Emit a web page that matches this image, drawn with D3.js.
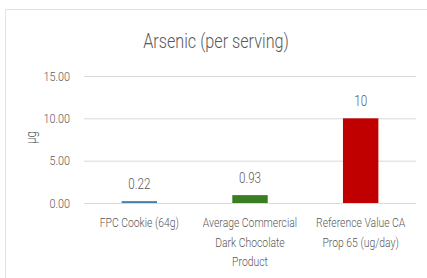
<!DOCTYPE html>
<html>
<head>
<meta charset="utf-8">
<script src="https://cdn.jsdelivr.net/npm/d3@7"></script>
<style>
  body { margin: 0; background: #fff; }
  svg text { font-family: Roboto, "Liberation Sans", sans-serif; font-weight: 300; fill: #595959; }
</style>
</head>
<body>
<svg width="427" height="278"></svg>
<script>
const categories = [
  ["FPC Cookie (64g)"],
  ["Average Commercial", "Dark Chocolate", "Product"],
  ["Reference Value CA", "Prop 65 (ug/day)"],
];
const values = [0.22, 0.93, 10];
const valueLabels = ["0.22", "0.93", "10"];
const barColors = ["#4a7ea8", "#3b7d23", "#c00000"];
const yTicks = [0, 5, 10, 15];

const svg = d3.select("svg");
const width = +svg.attr("width");
const height = +svg.attr("height");
const squeeze = 0.83; // narrow look of the original font

// squeeze text horizontally without transforms
const narrow = (sel) => sel.each(function () {
  const w = this.getComputedTextLength();
  d3.select(this).attr("textLength", w * squeeze).attr("lengthAdjust", "spacingAndGlyphs");
});

// card border
svg.append("rect")
  .attr("x", 5.5).attr("y", 9.5)
  .attr("width", width - 5).attr("height", height - 9)
  .attr("fill", "none").attr("stroke", "#e3e3e3");

const margin = { top: 76, right: 11, bottom: 75, left: 84 };
const innerWidth = width - margin.left - margin.right;
const innerHeight = height - margin.top - margin.bottom;

const g = svg.append("g")
  .attr("transform", `translate(${margin.left},${margin.top})`);

const idx = d3.range(values.length);
const xScale = d3.scaleBand().domain(idx).range([0, innerWidth]).paddingInner(0.68).paddingOuter(0.34);
const yScale = d3.scaleLinear().domain([0, 15]).range([innerHeight, 0]);

const yAxis = d3.axisLeft(yScale).tickValues(yTicks).tickSize(-innerWidth)
  .tickPadding(14).tickFormat(d3.format(".2f"));
const yAxisG = g.append("g").call(yAxis);
yAxisG.select(".domain").remove();
yAxisG.selectAll("line").attr("stroke", "#d9d9d9");
yAxisG.selectAll("text")
  .attr("font-size", 13)
  .attr("fill", "#595959")
  .attr("font-family", "Roboto")
  .call(narrow);

g.selectAll("rect.bar")
  .data(values)
  .enter().append("rect")
  .attr("class", "bar")
  .attr("x", (d, i) => xScale(i))
  .attr("y", (d) => yScale(d))
  .attr("width", xScale.bandwidth())
  .attr("height", (d) => innerHeight - yScale(d))
  .attr("fill", (d, i) => barColors[i]);

g.selectAll("text.value")
  .data(values)
  .enter().append("text")
  .attr("class", "value")
  .attr("x", (d, i) => xScale(i) + xScale.bandwidth() / 2)
  .attr("y", (d) => yScale(d) - 12)
  .attr("text-anchor", "middle")
  .attr("font-size", 14)
  .text((d, i) => valueLabels[i])
  .call(narrow);

const catLines = categories.flatMap((lines, i) => lines.map((t, j) => ({ t, i, j })));
g.selectAll("text.cat")
  .data(catLines)
  .enter().append("text")
  .attr("class", "cat")
  .attr("text-anchor", "middle")
  .attr("font-size", 12.5)
  .attr("x", (d) => xScale(d.i) + xScale.bandwidth() / 2)
  .attr("y", (d) => innerHeight + 24 + d.j * 19.5)
  .text((d) => d.t)
  .call(narrow);

svg.append("text")
  .attr("transform", `translate(36,${margin.top + innerHeight / 2 - 2}) rotate(-90)`)
  .attr("text-anchor", "middle")
  .attr("font-size", 14)
  .text("µg")
  .call(narrow);

svg.append("text")
  .attr("x", 216)
  .attr("y", 48)
  .attr("text-anchor", "middle")
  .attr("font-size", 19.5)
  .text("Arsenic (per serving)")
  .call(narrow);
</script>
</body>
</html>
